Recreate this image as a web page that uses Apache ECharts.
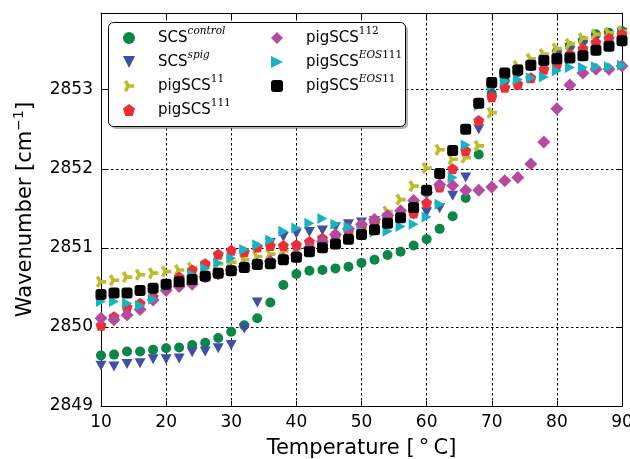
<!DOCTYPE html>
<html>
<head>
<meta charset="utf-8">
<script src="https://cdn.jsdelivr.net/npm/echarts@6/dist/echarts.min.js"></script>
<style>html,body{margin:0;padding:0;background:#fff;}#c{width:630px;height:459px;}</style>
</head>
<body>
<div id="c"></div>
<script>
// ---- data ----
const temps = [10,12,14,16,18,20,22,24,26,28,30,32,34,36,38,40,42,44,46,48,50,52,54,56,58,60,62,64,66,68,70,72,74,76,78,80,82,84,86,88,90];
const scsControl = [2849.64,2849.65,2849.69,2849.69,2849.71,2849.73,2849.74,2849.77,2849.80,2849.86,2849.94,2850.02,2850.11,2850.31,2850.53,2850.67,2850.71,2850.72,2850.74,2850.76,2850.81,2850.85,2850.91,2850.95,2851.03,2851.11,2851.24,2851.40,2851.63,2852.18,2852.95,2853.12,2853.22,2853.30,2853.40,2853.48,2853.55,2853.62,2853.70,2853.72,2853.74];
const scsSpig = [2849.51,2849.50,2849.53,2849.54,2849.59,2849.59,2849.60,2849.68,2849.69,2849.73,2849.77,2849.98,2850.31,2851.06,2851.14,2851.18,2851.20,2851.22,2851.26,2851.30,2851.32,2851.34,2851.38,2851.41,2851.42,2851.45,2851.50,2851.66,2851.89,2852.50,2853.01,2853.15,2853.22,2853.30,2853.38,2853.44,2853.53,2853.58,2853.64,2853.68,2853.72];
const pigSCS11 = [2850.57,2850.59,2850.63,2850.66,2850.68,2850.70,2850.72,2850.75,2850.78,2850.80,2850.82,2850.85,2850.89,2850.92,2850.96,2850.99,2851.04,2851.10,2851.15,2851.20,2851.25,2851.33,2851.46,2851.61,2851.78,2852.01,2852.24,2852.12,2852.14,2852.29,2852.71,2853.20,2853.30,2853.39,2853.45,2853.52,2853.58,2853.65,2853.70,2853.72,2853.74];
const pigSCS111 = [2850.02,2850.13,2850.25,2850.30,2850.38,2850.50,2850.63,2850.72,2850.80,2850.92,2850.97,2850.95,2851.01,2851.03,2851.03,2851.04,2851.08,2851.12,2851.16,2851.22,2851.27,2851.32,2851.37,2851.40,2851.44,2851.57,2851.77,2852.00,2852.23,2852.61,2852.91,2853.03,2853.07,2853.15,2853.26,2853.32,2853.45,2853.52,2853.60,2853.65,2853.70];
const pigSCS112 = [2850.11,2850.09,2850.15,2850.22,2850.34,2850.46,2850.51,2850.54,2850.63,2850.67,2850.72,2850.76,2850.80,2850.83,2850.87,2850.91,2851.00,2851.08,2851.17,2851.24,2851.30,2851.36,2851.41,2851.47,2851.60,2851.70,2851.80,2851.79,2851.73,2851.73,2851.77,2851.85,2851.89,2852.06,2852.34,2852.76,2853.06,2853.21,2853.26,2853.26,2853.30];
const pigSCSEOS111 = [2850.32,2850.32,2850.30,2850.27,2850.35,2850.52,2850.58,2850.66,2850.74,2850.81,2850.87,2850.98,2851.04,2851.10,2851.21,2851.25,2851.31,2851.37,2851.30,2851.26,2851.21,2851.20,2851.21,2851.27,2851.30,2851.39,2851.55,2851.89,2852.30,2852.80,2853.05,2853.11,2853.13,2853.15,2853.16,2853.24,2853.28,2853.28,2853.29,2853.29,2853.31];
const pigSCSEOS11 = [2850.41,2850.43,2850.43,2850.46,2850.49,2850.54,2850.57,2850.60,2850.64,2850.68,2850.71,2850.75,2850.79,2850.80,2850.85,2850.88,2850.95,2851.00,2851.05,2851.11,2851.17,2851.23,2851.31,2851.38,2851.51,2851.73,2851.94,2852.23,2852.50,2852.83,2853.09,2853.21,2853.25,2853.31,2853.37,2853.39,2853.40,2853.43,2853.50,2853.55,2853.62];
const xTicks = [10,20,30,40,50,60,70,80,90];
const yTicks = [2849,2850,2851,2852,2853];

// ---- styling ----
const triRight = 'path://M0,0 L10,5 L0,10 Z';
const triDown = 'path://M0,0 L10,0 L5,10 Z';
const pentagon = 'path://M5,0 L10,3.8 L8.1,10 L1.9,10 L0,3.8 Z';
const triMark = 'path://M9.72,3.9 L9.72,7.3 L5.2,7.3 L2.94,11.21 L0,9.51 L2.26,5.6 L0,1.69 L2.94,0 L5.2,3.9 Z';
const seriesDefs = [
  {name:'c', vals:scsControl, color:'#0a8747', symbol:'circle', size:10, label:'{b|SCS}{it|control}'},
  {name:'s', vals:scsSpig, color:'#3d50a2', symbol:triDown, size:[11,10], label:'{b|SCS}{it|spig}'},
  {name:'p11', vals:pigSCS11, color:'#bdbd2b', symbol:triMark, size:[10.4,12], label:'{b|pigSCS}{n|11}'},
  {name:'p111', vals:pigSCS111, color:'#ec2e3a', symbol:pentagon, size:11, label:'{b|pigSCS}{n|111}'},
  {name:'p112', vals:pigSCS112, color:'#b54a9f', symbol:'diamond', size:13, label:'{b|pigSCS}{n|112}'},
  {name:'e111', vals:pigSCSEOS111, color:'#17b4c0', symbol:triRight, size:[10,11], label:'{b|pigSCS}{it|EOS}{n|111}'},
  {name:'e11', vals:pigSCSEOS11, color:'#000000', symbol:'roundRect', size:11, label:'{b|pigSCS}{it|EOS}{n|11}'}
];
const labelMap = {};
seriesDefs.forEach(d => labelMap[d.name] = d.label);
const rich = {
  b: {fontFamily:'DejaVu Sans', fontSize:15, lineHeight:24, color:'#000', padding:[0,0,0,18]},
  it: {fontFamily:'DejaVu Serif', fontStyle:'italic', fontSize:10.5, lineHeight:11, verticalAlign:'top', color:'#000'},
  n: {fontFamily:'DejaVu Serif', fontSize:10.5, lineHeight:11, verticalAlign:'top', color:'#000'}
};
const legendBase = {
  orient:'vertical', top:26, padding:0, itemWidth:12, itemHeight:12, itemGap:0,
  selectedMode:false, z:20,
  formatter: n => labelMap[n],
  textStyle:{rich: rich, lineHeight:24}
};
const dashed = {show:true, lineStyle:{color:'#000', width:1, type:[2.5,2.5]}};
const tickInside = {show:true, inside:true, length:5, lineStyle:{color:'#000', width:1}};
const lineAx = {show:true, lineStyle:{color:'#000', width:1}};
const labelFont = {fontFamily:'DejaVu Sans', fontSize:17, color:'#000'};

const chart = echarts.init(document.getElementById('c'), null, {renderer:'canvas'});
chart.setOption({
  animation:false,
  backgroundColor:'#fff',
  grid:{left:101, top:13, width:521, height:393, containLabel:false, outerBoundsMode:'none'},
  xAxis:[{
    type:'value', min:xTicks[0], max:xTicks[xTicks.length-1], interval:10, position:'bottom',
    axisLine:lineAx, axisTick:tickInside, splitLine:dashed,
    axisLabel:Object.assign({margin:8}, labelFont),
    name:'Temperature [\u2009°\u2009C]', nameLocation:'middle', nameGap:32,
    nameTextStyle:{fontFamily:'DejaVu Sans', fontSize:21, color:'#000'}
  },{
    type:'value', min:xTicks[0], max:xTicks[xTicks.length-1], interval:10, position:'top',
    axisLine:lineAx, axisTick:tickInside, splitLine:{show:false}, axisLabel:{show:false}
  }],
  yAxis:[{
    type:'value', min:yTicks[0], max:2853.97, interval:1, position:'left',
    axisLine:lineAx, axisTick:tickInside, splitLine:dashed,
    axisLabel:Object.assign({margin:8, formatter: v => yTicks.indexOf(v) >= 0 ? String(v) : ''}, labelFont),
    name:'Wavenumber [cm{sup|\u22121}]', nameLocation:'middle', nameGap:57, nameRotate:90,
    nameTextStyle:{fontFamily:'DejaVu Sans', fontSize:21, color:'#000', lineHeight:26,
      rich:{sup:{fontFamily:'DejaVu Sans', fontSize:14, lineHeight:13, verticalAlign:'top', color:'#000'}}}
  },{
    type:'value', min:yTicks[0], max:2853.97, interval:1, position:'right',
    axisLine:lineAx, axisTick:tickInside, splitLine:{show:false}, axisLabel:{show:false}
  }],
  legend:[
    Object.assign({}, legendBase, {left:123, data:seriesDefs.slice(0,4).map(d=>d.name)}),
    Object.assign({}, legendBase, {left:271, data:seriesDefs.slice(4).map(d=>d.name)})
  ],
  graphic:[
    {type:'rect', z:15, shape:{x:111, y:25, width:297, height:104, r:5}, style:{fill:'#7f7f7f', opacity:0.6}},
    {type:'rect', z:16, shape:{x:108.5, y:22.5, width:297, height:104, r:5}, style:{fill:'#fff', stroke:'#000', lineWidth:1}}
  ],
  series: seriesDefs.map(d => ({
    type:'scatter', name:d.name, xAxisIndex:0, yAxisIndex:0,
    symbol:d.symbol, symbolSize:d.size, clip:true,
    itemStyle:{color:d.color, opacity:1},
    data: temps.map((t,i) => [t, d.vals[i]])
  }))
});
</script>
</body>
</html>
